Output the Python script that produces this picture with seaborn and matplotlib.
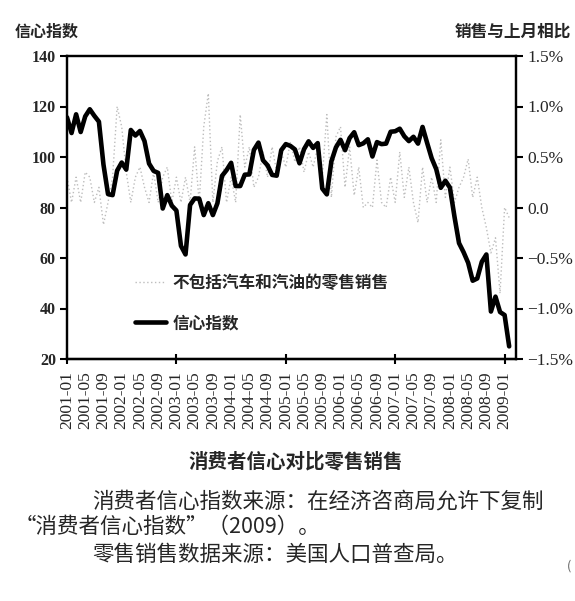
import numpy as np
import pandas as pd
import matplotlib
matplotlib.use('Agg')
import matplotlib.pyplot as plt
import seaborn as sns
from matplotlib.lines import Line2D

# ---------------- data ----------------
months = pd.period_range('2001-01', '2009-02', freq='M').strftime('%Y-%m').tolist()

confidence = [
    115.7, 109.5, 116.9, 109.9, 116.1, 118.9, 116.3, 114.0, 97.0, 85.3, 84.9, 94.6,
    97.8, 95.0, 110.7, 108.5, 110.3, 106.3, 97.4, 94.5, 93.7, 79.6, 84.9, 80.7,
    78.8, 64.8, 61.4, 81.0, 83.6, 83.5, 77.0, 81.7, 77.0, 81.7, 92.5, 94.8,
    97.7, 88.5, 88.5, 93.0, 93.1, 102.8, 105.7, 98.7, 96.7, 92.9, 92.6, 102.7,
    105.1, 104.4, 103.0, 97.5, 103.1, 106.2, 103.6, 105.5, 87.5, 85.2, 98.3, 103.8,
    106.8, 102.7, 107.5, 109.8, 104.7, 105.4, 107.0, 100.2, 105.9, 105.1, 105.3, 110.0,
    110.2, 111.2, 108.2, 106.3, 108.0, 105.3, 111.9, 105.6, 99.5, 95.2, 87.8, 90.6,
    87.9, 76.4, 65.9, 62.3, 58.1, 51.0, 51.9, 58.5, 61.4, 38.8, 44.7, 38.6,
    37.4, 25.0,
]

retail_pct = [
    0.30, 0.05, 0.30, 0.05, 0.35, 0.30, 0.05, 0.20, -0.17, 0.05, 0.30, 1.00,
    0.80, 0.35, 0.05, 0.30, 0.40, 0.20, 0.05, 0.35, 0.05, 0.30, 0.40, 0.05,
    0.30, 0.05, 0.30, 0.05, 0.60, 0.05, 0.80, 1.13, 0.05, 0.46, 0.60, 0.05,
    0.30, 0.05, 0.92, 0.40, 0.60, 0.20, 0.30, 0.55, 0.30, 0.60, 0.35, 0.55,
    0.40, 0.65, 0.45, 0.60, 0.35, 0.55, 0.40, 0.60, 0.30, 0.92, 0.10, 0.70,
    0.80, 0.20, 0.60, 0.12, 0.40, 0.00, 0.05, 0.00, 0.47, 0.05, 0.00, 0.30,
    0.05, 0.55, 0.10, 0.40, 0.05, -0.15, 0.40, 0.05, 0.30, 0.05, 0.67, 0.10,
    0.40, 0.05, 0.20, 0.30, 0.48, 0.10, 0.30, 0.00, -0.20, -0.45, -0.30, -0.85,
    0.00, -0.10,
]

left_ticks = [20, 40, 60, 80, 100, 120, 140]
right_ticks = [-1.5, -1.0, -0.5, 0.0, 0.5, 1.0, 1.5]
right_tick_labels = ['−1.5%', '−1.0%', '−0.5%', '0.0', '0.5%', '1.0%', '1.5%']
x_tick_pos = list(range(0, len(months), 4))
x_tick_labels = months[::4]

legend_labels = ['不包括汽车和汽油的零售销售', '信心指数']

# ---------------- figure ----------------
sns.set_theme(style='white')
plt.rcParams['font.family'] = ['Noto Sans CJK SC', 'DejaVu Sans']

W, H = 575, 601
fig = plt.figure(figsize=(W / 100, H / 100), dpi=100)
ax = fig.add_axes([67 / W, 1 - 359 / H, (516 - 67) / W, (359 - 56) / H])
ax2 = ax.twinx()

df = pd.DataFrame({'idx': np.arange(len(months)), 'conf': confidence, 'retail': retail_pct})

gray = '#bdbdbd'
sns.lineplot(data=df, x='idx', y='retail', ax=ax2, color=gray, lw=1.0,
             linestyle=(0, (1, 1.8)))
sns.lineplot(data=df, x='idx', y='conf', ax=ax, color='black', lw=3.3)

ax.set_zorder(ax2.get_zorder() + 1)
ax.patch.set_visible(False)

ax.set_xlim(0, 98.5)
ax.set_ylim(20, 140)
ax2.set_ylim(-1.5, 1.5)
ax.set_xlabel('')
ax.set_ylabel('')
ax2.set_xlabel('')
ax2.set_ylabel('')

for a in (ax, ax2):
    for s in a.spines.values():
        s.set_color('black')
        s.set_linewidth(1.6)

ax.set_yticks(left_ticks)
ax.set_yticklabels([str(t) for t in left_ticks], family='Liberation Serif',
                   weight='bold', size=11.5)
ax.tick_params(axis='y', left=True, direction='out', length=5, width=1.5,
               color='black', pad=3)

ax2.set_yticks(right_ticks)
ax2.set_yticklabels(right_tick_labels, family='Liberation Serif', size=12.5)
ax2.tick_params(axis='y', right=True, direction='out', length=5, width=1.5,
                color='black', pad=3)

ax.set_xticks(x_tick_pos)
ax.set_xticklabels(x_tick_labels, rotation=90, family='Liberation Serif', size=12.5)
ax.tick_params(axis='x', bottom=True, length=0, pad=9)

sec = ax.secondary_xaxis('bottom')
sec.set_xticks([0, 24, 48, 72, 96])
sec.tick_params(axis='x', direction='inout', length=7, width=1.5, color='black',
                labelbottom=False)
sec.spines['bottom'].set_linewidth(1.6)

handles = [
    Line2D([0], [0], color=gray, lw=1.0, linestyle=(0, (1, 1.8))),
    Line2D([0], [0], color='black', lw=3.3),
]
ax.legend(handles, legend_labels, loc='center left', bbox_to_anchor=(0.151, 0.185),
          frameon=False, borderpad=0, borderaxespad=0, handlelength=1.9,
          handletextpad=0.35, labelspacing=1.35,
          prop={'family': ['Noto Sans CJK SC', 'DejaVu Sans'], 'weight': 'bold', 'size': 12})

# ---------------- texts ----------------
fig.text(15 / W, 1 - 32 / H, '信心指数', weight='bold', size=11.5, ha='left', va='center')
fig.text(571 / W, 1 - 32 / H, '销售与上月相比', weight='bold', size=12, ha='right', va='center')
fig.text(296 / W, 1 - 462 / H, '消费者信心对比零售销售', weight='bold', size=14,
         ha='center', va='center')
fig.text(92 / W, 1 - 502 / H, '消费者信心指数来源：在经济咨商局允许下复制', size=15.5,
         ha='left', va='center')
fig.text(15 / W, 1 - 527 / H, '“消费者信心指数”（2009）。', size=15.5, ha='left', va='center')
fig.text(92 / W, 1 - 555 / H, '零售销售数据来源：美国人口普查局。', size=15.5,
         ha='left', va='center')
fig.text(567 / W, 1 - 566 / H, '(', size=9, color='#666666', ha='left', va='center')

fig.savefig('out.png', dpi=100)
